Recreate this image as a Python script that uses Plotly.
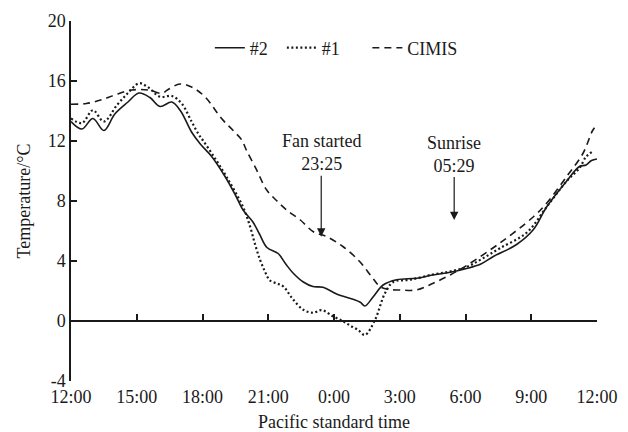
import plotly.graph_objects as go

# hours elapsed since 12:00 (noon)
tick_hours = [0, 3, 6, 9, 12, 15, 18, 21, 24]
tick_labels = ["12:00", "15:00", "18:00", "21:00", "0:00", "3:00", "6:00", "9:00", "12:00"]
y_ticks = [-4, 0, 4, 8, 12, 16, 20]
y_tick_labels = ["-4", "0", "4", "8", "12", "16", "20"]

s2_h = [0.0, 0.5, 1.0, 1.5, 2.0, 2.6, 3.1, 3.6, 4.06, 4.6, 5.0, 5.5, 5.9, 6.4, 7.0, 7.5, 7.85,
        8.3, 8.6, 8.94, 9.45, 9.8, 10.13, 10.6, 11.04, 11.5, 12.12, 12.87, 13.2, 13.41, 13.78,
        14.24, 14.86, 15.77, 16.5, 17.3, 18.05, 18.7, 19.27, 20.33, 21.1, 21.7, 22.6, 23.2,
        23.5, 23.75, 24.0]
s2_v = [13.3, 12.8, 13.5, 12.7, 13.8, 14.6, 15.2, 14.9, 14.3, 14.6, 14.0, 12.6, 11.8, 11.0,
        9.7, 8.4, 7.4, 6.6, 5.8, 4.9, 4.5, 3.8, 3.2, 2.6, 2.3, 2.25, 1.8, 1.45, 1.25, 1.0, 1.6,
        2.4, 2.75, 2.85, 3.07, 3.25, 3.5, 3.8, 4.3, 5.1, 6.1, 7.6, 9.3, 10.3, 10.4, 10.7, 10.8]

s1_h = [0.0, 0.5, 1.0, 1.5, 2.1, 2.6, 3.1, 3.5, 4.06, 4.6, 5.05, 5.5, 5.8, 6.04, 6.5, 7.1,
        7.85, 8.17, 8.4, 8.62, 8.85, 9.08, 9.4, 9.69, 10.1, 10.6, 11.04, 11.44, 11.97, 12.4,
        12.73, 13.1, 13.41, 13.87, 14.32, 14.7, 15.47, 16.5, 17.3, 18.05, 18.7, 19.57, 20.8,
        21.7, 22.6, 23.2, 23.5, 23.8]
s1_v = [13.5, 13.2, 14.05, 13.3, 14.4, 15.2, 15.85, 15.6, 14.95, 15.0, 14.5, 13.3, 12.5,
        12.0, 11.0, 9.6, 7.6, 6.3, 5.1, 4.1, 3.3, 2.7, 2.5, 2.3, 1.5, 0.75, 0.55, 0.73, 0.3,
        0.0, -0.3, -0.6, -0.93, 0.07, 1.84, 2.6, 2.75, 3.1, 3.3, 3.6, 4.1, 4.85, 5.9, 7.6,
        9.3, 10.2, 10.95, 11.3]

cimis_h = [0.0, 0.7, 1.4, 2.0, 2.77, 3.53, 4.14, 4.4, 4.97, 5.5, 6.11, 6.87, 7.4, 7.79, 8.0,
           8.47, 8.93, 9.4, 9.84, 10.45, 11.06, 11.67, 12.42, 13.18, 13.72, 14.1, 14.5, 15.0,
           15.77, 16.5, 17.3, 18.05, 19.57, 21.1, 21.7, 22.6, 23.37, 23.8, 24.0]
cimis_v = [14.45, 14.5, 14.75, 15.07, 15.4, 15.4, 15.18, 15.4, 15.8, 15.6, 14.95, 13.5, 12.7,
           12.07, 11.4, 10.07, 8.73, 8.0, 7.4, 6.75, 5.95, 5.62, 4.95, 3.95, 2.95, 2.29, 2.1,
           2.07, 2.07, 2.5, 3.07, 3.7, 5.2, 6.95, 7.85, 9.6, 11.2, 12.7, 13.1]

fan_time = "23:25"
fan_temp = 5.62
sunrise_time = "05:29"
sunrise_temp = 6.73


def hours_since_noon(t):
    hh, mm = [int(p) for p in t.split(":")]
    return ((hh - 12) % 24) + mm / 60.0


FONT = "Liberation Serif, Times New Roman, serif"
INK = "#1a1a1a"
PAD = "\u00a0"

fig = go.Figure()
fig.add_trace(go.Scatter(x=s2_h, y=s2_v, mode="lines", name="#2" + PAD * 2, line_shape="spline",
                         line=dict(color=INK, width=1.6, dash="solid")))
fig.add_trace(go.Scatter(x=s1_h, y=s1_v, mode="lines", name="#1" + PAD * 5, line_shape="spline",
                         line=dict(color=INK, width=2.2, dash="2px,2.5px")))
fig.add_trace(go.Scatter(x=cimis_h, y=cimis_v, mode="lines", name="CIMIS", line_shape="spline",
                         line=dict(color=INK, width=1.6, dash="7px,5px")))
# invisible trace to carry the zero-line axis
fig.add_trace(go.Scatter(x=[tick_hours[0], tick_hours[-1]], y=[0, 0], xaxis="x2", mode="lines",
                         line=dict(color="rgba(0,0,0,0)"), showlegend=False, hoverinfo="skip"))

fig.add_annotation(x=hours_since_noon(fan_time), y=fan_temp, text="Fan started<br>" + fan_time,
                   showarrow=True, ax=0, ay=-84, arrowhead=2, arrowsize=1.4, arrowwidth=1.2,
                   arrowcolor=INK, font=dict(family=FONT, size=18, color=INK))
fig.add_annotation(x=hours_since_noon(sunrise_time), y=sunrise_temp, text="Sunrise<br>" + sunrise_time,
                   showarrow=True, ax=0, ay=-66, arrowhead=2, arrowsize=1.4, arrowwidth=1.2,
                   arrowcolor=INK, font=dict(family=FONT, size=18, color=INK))

# page body has an 8px default margin; size the figure so the plot area lands where it should
fig.update_layout(
    width=620, height=424,
    margin=dict(l=63, r=31, t=13, b=51, autoexpand=False),
    paper_bgcolor="white", plot_bgcolor="white",
    font=dict(family=FONT, size=18, color=INK),
    showlegend=True,
    legend=dict(orientation="h", x=0.264, y=0.925, xanchor="left", yanchor="middle",
                font=dict(family=FONT, size=18, color=INK), bgcolor="rgba(0,0,0,0)",
                itemwidth=30),
    xaxis=dict(range=[tick_hours[0], tick_hours[-1]], tickvals=tick_hours, ticktext=tick_labels,
               showline=False, ticks="", showgrid=False, zeroline=False, automargin=False,
               ticklabelstandoff=3,
               title=dict(text="Pacific standard time", standoff=9,
                          font=dict(family=FONT, size=18, color=INK)),
               tickfont=dict(family=FONT, size=18, color=INK)),
    xaxis2=dict(range=[tick_hours[0], tick_hours[-1]], overlaying="x", anchor="free",
                position=(0 - y_ticks[0]) / (y_ticks[-1] - y_ticks[0]), side="bottom",
                tickvals=tick_hours, showticklabels=False, ticks="inside", ticklen=6,
                tickwidth=1.5, tickcolor=INK, showline=True, linecolor=INK, linewidth=1.5,
                showgrid=False, zeroline=False, automargin=False),
    yaxis=dict(range=[y_ticks[0], y_ticks[-1]], tickvals=y_ticks, ticktext=y_tick_labels,
               showline=True, linecolor=INK, linewidth=1.5, ticks="inside", ticklen=6,
               tickwidth=1.5, tickcolor=INK, showgrid=False, zeroline=False, automargin=False,
               title=dict(text="Temperature/°C", standoff=12,
                          font=dict(family=FONT, size=18, color=INK)),
               tickfont=dict(family=FONT, size=18, color=INK)),
)

fig.write_html("out.html")
